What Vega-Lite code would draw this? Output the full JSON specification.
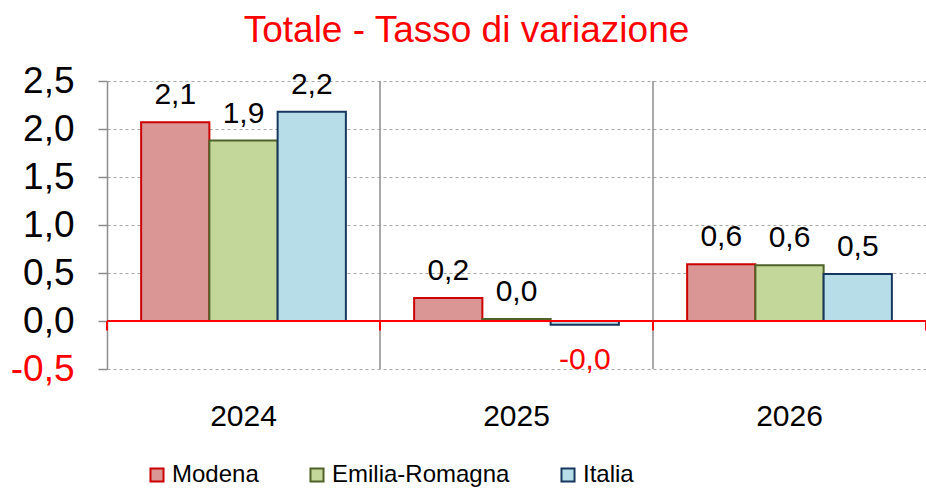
{
  "$schema": "https://vega.github.io/schema/vega-lite/v6.json",
  "width": 819,
  "height": 288,
  "autosize": {"type": "none"},
  "padding": {"left": 107, "top": 81, "right": 0, "bottom": 120},
  "config": {
    "font": "Liberation Sans",
    "view": {"stroke": null},
    "locale": {"number": {"decimal": ",", "thousands": ".", "grouping": [3], "currency": ["€", ""], "minus": "-"}},
    "title": {"font": "Liberation Sans", "fontSize": 37, "fontWeight": "normal", "color": "#FF0000", "anchor": "middle", "frame": "group", "dx": -50, "offset": 12}
  },
  "title": "Totale - Tasso di variazione",
  "data": {
    "values": [
      {"year": "2024", "area": "Modena", "value": 2.07},
      {"year": "2024", "area": "Emilia-Romagna", "value": 1.88},
      {"year": "2024", "area": "Italia", "value": 2.18},
      {"year": "2025", "area": "Modena", "value": 0.24},
      {"year": "2025", "area": "Emilia-Romagna", "value": 0.02},
      {"year": "2025", "area": "Italia", "value": -0.04},
      {"year": "2026", "area": "Modena", "value": 0.59},
      {"year": "2026", "area": "Emilia-Romagna", "value": 0.58},
      {"year": "2026", "area": "Italia", "value": 0.49}
    ]
  },
  "layer": [
    {
      "mark": {"type": "bar", "strokeWidth": 2},
      "encoding": {
        "x": {
          "field": "year", "type": "nominal", "title": null,
          "scale": {"paddingInner": 0, "paddingOuter": 0},
          "axis": {"domain": false, "ticks": false, "labelAngle": 0, "labelFontSize": 30, "labelColor": "#000000", "labelPadding": 56, "labelBaseline": "alphabetic", "grid": false}
        },
        "xOffset": {"field": "area", "type": "nominal", "sort": ["Modena", "Emilia-Romagna", "Italia"], "scale": {"paddingInner": 0, "paddingOuter": 0.5}},
        "y": {
          "field": "value", "type": "quantitative", "title": null,
          "scale": {"domain": [-0.5, 2.5], "nice": false, "zero": false},
          "axis": {
            "values": [-0.5, 0, 0.5, 1, 1.5, 2, 2.5],
            "format": ".1f",
            "labelFontSize": 37,
            "labelColor": {"condition": {"test": "datum.value < 0", "value": "#FF0000"}, "value": "#000000"},
            "labelPadding": 24,
            "domainColor": "#8C8C8C", "domainWidth": 1.5,
            "tickColor": "#8C8C8C", "tickWidth": 1.5, "tickSize": 9,
            "gridColor": "#A6A6A6", "gridDash": [3, 3], "gridWidth": 1
          }
        },
        "fill": {
          "field": "area", "type": "nominal", "sort": ["Modena", "Emilia-Romagna", "Italia"], "title": null,
          "scale": {"domain": ["Modena", "Emilia-Romagna", "Italia"], "range": ["#D99694", "#C4D79B", "#B7DEE8"]},
          "legend": {"orient": "none", "legendX": 38, "legendY": 382, "direction": "horizontal", "columns": 3, "columnPadding": 46, "symbolType": "square", "symbolSize": 170, "symbolStrokeWidth": 2, "labelFontSize": 24, "labelColor": "#000000", "labelOffset": 3, "labelLimit": 300}
        },
        "stroke": {
          "field": "area", "type": "nominal", "sort": ["Modena", "Emilia-Romagna", "Italia"], "title": null,
          "scale": {"domain": ["Modena", "Emilia-Romagna", "Italia"], "range": ["#CC0000", "#4F6228", "#17375E"]},
          "legend": {"orient": "none", "legendX": 38, "legendY": 382, "direction": "horizontal", "columns": 3, "columnPadding": 46, "symbolType": "square", "symbolSize": 170, "symbolStrokeWidth": 2, "labelFontSize": 24, "labelColor": "#000000", "labelOffset": 3, "labelLimit": 300}
        }
      }
    },
    {
      "data": {"values": [{"year": "2025"}, {"year": "2026"}]},
      "mark": {"type": "rule", "color": "#8C8C8C", "strokeWidth": 1.5},
      "encoding": {
        "x": {"field": "year", "type": "nominal", "bandPosition": 0},
        "y": {"datum": -0.5},
        "y2": {"datum": 2.5}
      }
    },
    {
      "mark": {"type": "rule", "color": "#FF0000", "strokeWidth": 2},
      "encoding": {
        "y": {"datum": 0}
      }
    },
    {
      "data": {"values": [{"year": "2024"}, {"year": "2025"}, {"year": "2026"}]},
      "mark": {"type": "rule", "color": "#FF0000", "strokeWidth": 2},
      "encoding": {
        "x": {"field": "year", "type": "nominal", "bandPosition": 0},
        "y": {"datum": 0},
        "y2": {"datum": -0.1}
      }
    },
    {
      "data": {"values": [{"year": "2026"}]},
      "mark": {"type": "rule", "color": "#FF0000", "strokeWidth": 2},
      "encoding": {
        "x": {"field": "year", "type": "nominal", "bandPosition": 1},
        "y": {"datum": 0},
        "y2": {"datum": -0.1}
      }
    },
    {
      "transform": [{"filter": "datum.value >= 0"}],
      "mark": {"type": "text", "fontSize": 30, "baseline": "alphabetic", "dy": -18, "color": "#000000"},
      "encoding": {
        "x": {"field": "year", "type": "nominal"},
        "xOffset": {"field": "area", "type": "nominal", "sort": ["Modena", "Emilia-Romagna", "Italia"]},
        "y": {"field": "value", "type": "quantitative"},
        "text": {"field": "value", "type": "quantitative", "format": ".1f"}
      }
    },
    {
      "transform": [
        {"filter": "datum.value < 0"},
        {"calculate": "'-' + replace(format(-datum.value, '.1f'), '.', ',')", "as": "label"}
      ],
      "mark": {"type": "text", "fontSize": 30, "baseline": "alphabetic", "dy": 44, "color": "#FF0000"},
      "encoding": {
        "x": {"field": "year", "type": "nominal"},
        "xOffset": {"field": "area", "type": "nominal", "sort": ["Modena", "Emilia-Romagna", "Italia"]},
        "y": {"field": "value", "type": "quantitative"},
        "text": {"field": "label", "type": "nominal"}
      }
    }
  ]
}
